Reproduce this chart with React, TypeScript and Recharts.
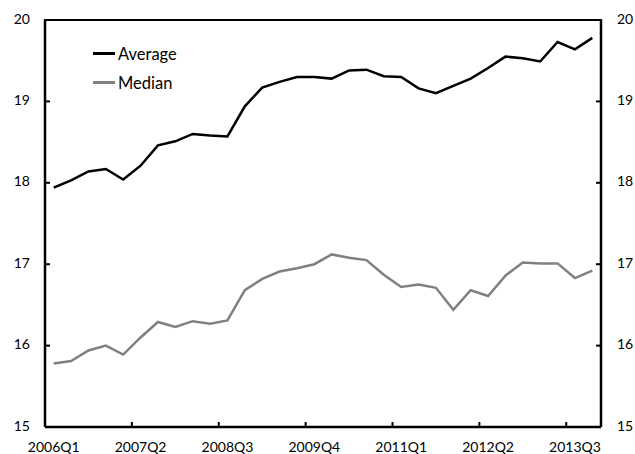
import { LineChart, Line, XAxis, YAxis } from "recharts";

// Quarterly categories
const quarters = [
  "2006Q1", "2006Q2", "2006Q3", "2006Q4",
  "2007Q1", "2007Q2", "2007Q3", "2007Q4",
  "2008Q1", "2008Q2", "2008Q3", "2008Q4",
  "2009Q1", "2009Q2", "2009Q3", "2009Q4",
  "2010Q1", "2010Q2", "2010Q3", "2010Q4",
  "2011Q1", "2011Q2", "2011Q3", "2011Q4",
  "2012Q1", "2012Q2", "2012Q3", "2012Q4",
  "2013Q1", "2013Q2", "2013Q3", "2013Q4",
];

const average = [
  17.94, 18.03, 18.14, 18.17, 18.04, 18.21, 18.46, 18.51,
  18.6, 18.58, 18.57, 18.94, 19.17, 19.24, 19.3, 19.3,
  19.28, 19.38, 19.39, 19.31, 19.3, 19.16, 19.1, 19.19,
  19.28, 19.41, 19.55, 19.53, 19.49, 19.73, 19.64, 19.78,
];

const median = [
  15.78, 15.81, 15.94, 16.0, 15.89, 16.1, 16.29, 16.23,
  16.3, 16.27, 16.31, 16.68, 16.82, 16.91, 16.95, 17.0,
  17.12, 17.08, 17.05, 16.87, 16.72, 16.75, 16.71, 16.44,
  16.68, 16.61, 16.86, 17.02, 17.01, 17.01, 16.83, 16.92,
];

const yTicks = [15, 16, 17, 18, 19, 20];

const legendItems = [
  { name: "Average", color: "#000" },
  { name: "Median", color: "#808080" },
];

const data = quarters.map((q, i) => ({ q, average: average[i], median: median[i] }));

const W = 635;
const H = 454;
const TOP = 20;
const LEFT = 45;
const RIGHT = 34;
const PLOT_W = W - LEFT - RIGHT;
const STEP = PLOT_W / quarters.length;
const FONT = "Lato, 'Open Sans', sans-serif";

const XTick = ({ x, y, payload }: any) => (
  <g>
    <line x1={x - STEP / 2} x2={x - STEP / 2} y1={y} y2={y - 5} stroke="#000" strokeWidth={2} />
    <text x={x} y={y + 21} textAnchor="middle" dominantBaseline="middle" fontSize={14} fontFamily={FONT} fill="#000">
      {payload.value}
    </text>
  </g>
);

const LeftTick = ({ x, y, payload }: any) => (
  <g>
    <line x1={x} x2={x + 5} y1={y} y2={y} stroke="#000" strokeWidth={2} />
    <text x={x - 15} y={y} textAnchor="end" dominantBaseline="middle" fontSize={14} fontFamily={FONT} fill="#000">
      {payload.value}
    </text>
  </g>
);

const RightTick = ({ x, y, payload }: any) => (
  <g>
    <line x1={x} x2={x - 5} y1={y} y2={y} stroke="#000" strokeWidth={2} />
    <text x={x + 16} y={y} textAnchor="start" dominantBaseline="middle" fontSize={14} fontFamily={FONT} fill="#000">
      {payload.value}
    </text>
  </g>
);

export default function App() {
  return (
    <div style={{ position: "absolute", left: 0, top: 0, width: W, height: H, background: "#fff" }}>
      <LineChart width={W} height={H} data={data} margin={{ top: TOP, right: 0, bottom: 0, left: 0 }}>
        <XAxis
          xAxisId="bottom"
          dataKey="q"
          height={27}
          interval={4}
          padding={{ left: STEP / 2, right: STEP / 2 }}
          axisLine={{ stroke: "#000", strokeWidth: 2.5 }}
          tickLine={false}
          tickSize={0}
          tickMargin={0}
          tick={<XTick />}
        />
        <YAxis
          yAxisId="left"
          width={LEFT}
          domain={[15, 20]}
          ticks={yTicks}
          axisLine={{ stroke: "#000", strokeWidth: 2.5 }}
          tickLine={false}
          tickSize={0}
          tickMargin={0}
          tick={<LeftTick />}
        />
        <YAxis
          yAxisId="right"
          orientation="right"
          width={RIGHT}
          domain={[15, 20]}
          ticks={yTicks}
          axisLine={{ stroke: "#000", strokeWidth: 2.5 }}
          tickLine={false}
          tickSize={0}
          tickMargin={0}
          tick={<RightTick />}
        />
        {/* invisible series so the right axis gets drawn */}
        <Line
          xAxisId="bottom"
          yAxisId="right"
          dataKey="average"
          stroke="none"
          dot={false}
          activeDot={false}
          legendType="none"
          isAnimationActive={false}
        />
        <Line
          xAxisId="bottom"
          yAxisId="left"
          type="linear"
          dataKey="median"
          name="Median"
          stroke="#808080"
          strokeWidth={2.5}
          dot={false}
          isAnimationActive={false}
        />
        <Line
          xAxisId="bottom"
          yAxisId="left"
          type="linear"
          dataKey="average"
          name="Average"
          stroke="#000"
          strokeWidth={2.5}
          dot={false}
          isAnimationActive={false}
        />
      </LineChart>
      {/* top edge of the frame */}
      <div style={{ position: "absolute", left: LEFT - 1, top: TOP - 1.5, width: PLOT_W + 2, height: 2.5, background: "#000" }} />
      <div style={{ position: "absolute", left: 93, top: 39, fontFamily: FONT, fontSize: 16.5, color: "#000" }}>
        {legendItems.map((it) => (
          <div key={it.name} style={{ display: "flex", alignItems: "center", height: 29 }}>
            <span style={{ display: "inline-block", width: 22, height: 3, background: it.color, marginRight: 3 }} />
            <span>{it.name}</span>
          </div>
        ))}
      </div>
    </div>
  );
}
